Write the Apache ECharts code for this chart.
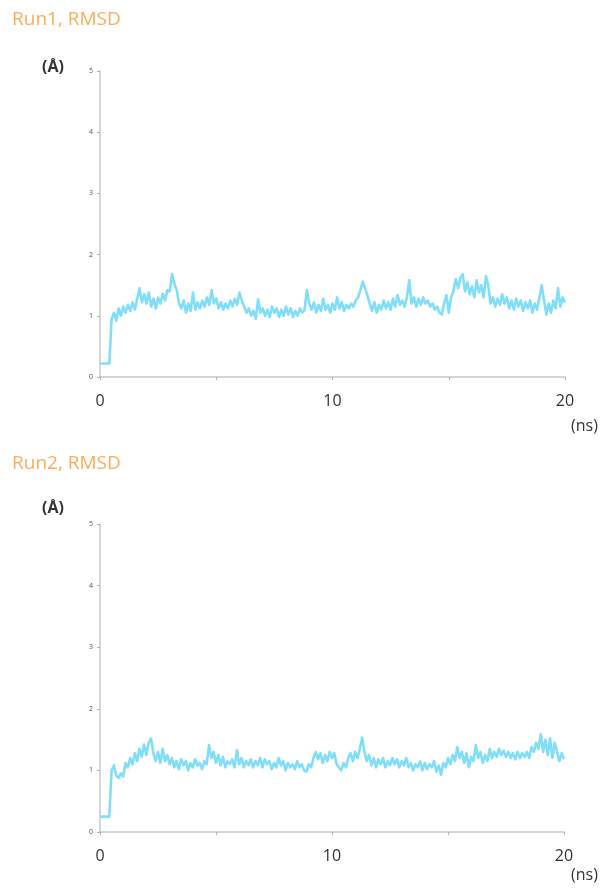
<!DOCTYPE html>
<html>
<head>
<meta charset="utf-8">
<script src="https://cdn.jsdelivr.net/npm/echarts@6/dist/echarts.min.js"></script>
<style>
html,body{margin:0;padding:0;background:#fff;}
#chart{width:608px;height:889px;}
</style>
</head>
<body>
<div id="chart"></div>
<script>
// Sampling step of the trajectories (ns)
var timeStep = 0.1;
var xTicks = [0, 5, 10, 15, 20];
var xLabels = ['0', '', '10', '', '20'];
var yTicks = [0, 1, 2, 3, 4, 5];
var titles = ['Run1, RMSD', 'Run2, RMSD'];
var yUnit = '(Å)';
var xUnit = '(ns)';

var run1 = [
  0.22,0.22,0.22,0.22,0.22,0.95,1.05,0.92,1.12,1.00,
  1.15,1.05,1.18,1.08,1.22,1.10,1.28,1.45,1.22,1.35,
  1.20,1.38,1.15,1.28,1.12,1.30,1.20,1.36,1.25,1.42,
  1.40,1.68,1.52,1.42,1.20,1.12,1.25,1.05,1.20,1.08,
  1.38,1.10,1.22,1.12,1.25,1.15,1.30,1.18,1.42,1.20,
  1.28,1.12,1.22,1.10,1.20,1.12,1.25,1.15,1.28,1.18,
  1.38,1.25,1.15,1.05,1.12,1.00,1.08,0.95,1.27,1.05,
  1.12,1.00,1.10,0.98,1.15,1.05,1.12,0.98,1.10,1.00,
  1.15,1.02,1.12,0.98,1.08,1.00,1.12,1.05,1.10,1.42,
  1.20,1.10,1.22,1.05,1.18,1.08,1.28,1.10,1.18,1.05,
  1.20,1.10,1.30,1.12,1.22,1.08,1.18,1.12,1.20,1.15,
  1.25,1.30,1.42,1.56,1.45,1.34,1.20,1.08,1.22,1.05,
  1.18,1.10,1.25,1.12,1.22,1.10,1.28,1.15,1.34,1.18,
  1.25,1.15,1.30,1.58,1.20,1.30,1.15,1.28,1.18,1.30,
  1.20,1.25,1.15,1.20,1.10,1.15,1.05,1.02,1.20,1.34,
  1.05,1.30,1.40,1.60,1.45,1.62,1.68,1.40,1.55,1.35,
  1.48,1.30,1.58,1.38,1.50,1.30,1.65,1.50,1.20,1.30,
  1.15,1.28,1.18,1.35,1.20,1.30,1.12,1.25,1.10,1.28,
  1.15,1.25,1.08,1.22,1.12,1.25,1.05,1.20,1.10,1.30,
  1.50,1.25,1.02,1.20,1.05,1.25,1.12,1.45,1.15,1.30,
  1.22
];

var run2 = [
  0.25,0.25,0.25,0.25,0.25,1.00,1.08,0.92,0.88,0.95,
  0.90,1.12,1.05,1.20,1.10,1.28,1.15,1.35,1.22,1.42,
  1.25,1.45,1.52,1.28,1.15,1.30,1.12,1.35,1.15,1.25,
  1.10,1.20,1.05,1.15,1.02,1.18,1.08,1.15,1.00,1.12,
  1.05,1.18,1.08,1.12,1.02,1.15,1.10,1.41,1.20,1.30,
  1.12,1.25,1.08,1.22,1.05,1.15,1.10,1.18,1.05,1.33,
  1.10,1.20,1.05,1.15,1.08,1.18,1.05,1.15,1.08,1.20,
  1.05,1.18,1.10,1.15,1.02,1.12,1.05,1.20,1.08,1.15,
  1.00,1.12,1.05,1.10,1.02,1.15,1.05,1.10,1.00,0.98,
  1.10,1.05,1.20,1.30,1.18,1.28,1.12,1.25,1.15,1.30,
  1.20,1.28,1.10,1.05,1.00,1.12,1.05,1.20,1.28,1.15,
  1.30,1.20,1.35,1.53,1.30,1.15,1.25,1.08,1.20,1.05,
  1.18,1.10,1.20,1.05,1.15,1.08,1.20,1.10,1.18,1.05,
  1.15,1.08,1.20,1.05,1.12,1.00,1.10,1.05,1.15,1.00,
  1.12,1.02,1.10,1.05,1.15,0.98,1.08,0.93,1.12,1.05,
  1.20,1.10,1.25,1.15,1.38,1.20,1.30,1.12,1.28,1.05,
  1.22,1.15,1.41,1.20,1.30,1.12,1.25,1.15,1.35,1.20,
  1.30,1.22,1.35,1.25,1.32,1.22,1.30,1.20,1.28,1.18,
  1.30,1.20,1.28,1.22,1.30,1.20,1.38,1.30,1.45,1.35,
  1.59,1.30,1.50,1.25,1.52,1.20,1.45,1.30,1.15,1.28,
  1.18
];

function pairs(vals) {
  return vals.map(function (v, i) { return [Math.round(i * timeStep * 10) / 10, v]; });
}

var FONT = '"Open Sans", "Liberation Sans", sans-serif';
var chart = echarts.init(document.getElementById('chart'), null, {renderer: 'canvas'});

function xAxisCfg(idx) {
  return {
    type: 'value', gridIndex: idx, min: xTicks[0], max: xTicks[xTicks.length - 1], interval: 5,
    axisLine: {show: true, lineStyle: {color: '#c8c8c8', width: 1.5}},
    axisTick: {show: true, length: 3, lineStyle: {color: '#b0b0b0', width: 1}},
    splitLine: {show: false},
    axisLabel: {
      margin: 16, fontSize: 16, color: '#333', fontFamily: FONT,
      formatter: function (v) { var k = xTicks.indexOf(v); return k >= 0 ? xLabels[k] : ''; }
    }
  };
}
function yAxisCfg(idx) {
  return {
    type: 'value', gridIndex: idx, min: yTicks[0], max: yTicks[yTicks.length - 1], interval: 1,
    axisLine: {show: true, lineStyle: {color: '#c8c8c8', width: 1.5}},
    axisTick: {show: true, length: 3, lineStyle: {color: '#b0b0b0', width: 1}},
    splitLine: {show: false},
    axisLabel: {margin: 7, fontSize: 7, color: '#555', fontFamily: FONT}
  };
}
function seriesCfg(idx, vals) {
  return {
    type: 'line', xAxisIndex: idx, yAxisIndex: idx, data: pairs(vals),
    showSymbol: false, symbol: 'none', smooth: false,
    lineStyle: {color: '#80def8', width: 2.6, join: 'round'},
    animation: false
  };
}
function txt(x, y, text, size, color, weight) {
  return {type: 'text', left: x, top: y, style: {text: text, fontSize: size, fill: color, fontFamily: FONT, fontWeight: weight || 'normal'}};
}

chart.setOption({
  animation: false,
  backgroundColor: '#fff',
  grid: [
    {left: 100, top: 71, width: 465, height: 306},
    {left: 100, top: 524, width: 464, height: 308}
  ],
  xAxis: [xAxisCfg(0), xAxisCfg(1)],
  yAxis: [yAxisCfg(0), yAxisCfg(1)],
  series: [seriesCfg(0, run1), seriesCfg(1, run2)],
  graphic: [
    txt(12, 10, titles[0], 19, '#fbac5a'),
    txt(42, 59, yUnit, 16, '#333', 'bold'),
    txt(571, 418, xUnit, 16, '#333'),
    txt(12, 454, titles[1], 19, '#fbac5a'),
    txt(42, 500, yUnit, 16, '#333', 'bold'),
    txt(571, 867, xUnit, 16, '#333')
  ]
});
</script>
</body>
</html>
